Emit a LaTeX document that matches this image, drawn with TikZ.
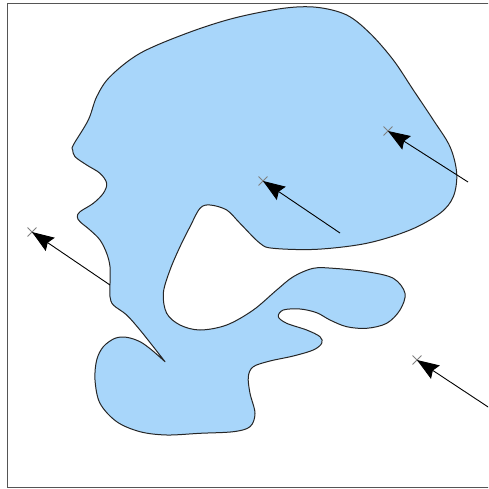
\documentclass[tikz,border=0pt]{standalone}
\usetikzlibrary{arrows.meta,shapes.misc}
\definecolor{blobfill}{RGB}{168,214,250}
\definecolor{framegray}{RGB}{85,85,85}
\tikzset{
  blob/.style={draw=black!85, line width=1pt, fill=blobfill, line join=round},
  crossmark/.style={cross out, draw=black!50, line width=0.9pt, minimum size=8pt, inner sep=0pt},
  ray/.style={draw=black, line width=0.9pt, -{Stealth[length=22pt,width=16pt,inset=3pt]}},
  frameline/.style={draw=framegray, line width=1.4pt}
}
\begin{document}
\begin{tikzpicture}[x=1pt,y=-1pt]
\useasboundingbox (0,0) rectangle (488,489);
\clip (0,0) rectangle (488,489);
\fill[white] (0,0) rectangle (488,489);
\draw[frameline] (496,3.5) -- (7.3,3.5) -- (7.3,487.5) -- (496,487.5);
\draw[blob] plot[smooth, tension=0.55] coordinates {
(165,361.7) (153.3,346.7) (140,330) (126.7,315) (113.3,305) (110,296.7) (110,283.3)
(110,266.7) (106.7,253.3) (100,240) (90,230) (80,221.7) (77.3,216.7) (80,211.7)
(93.3,203.3) (103.3,193.3) (106.7,183.3) (100,173.3) (86.7,165) (75,156.7) (72.7,150)
(73.3,145) (88.3,120) (96.7,96.7) (110,76.7) (140,53.3) (186.7,33.3) (233.3,18.3)
(283.3,8.3) (316.7,7.3) (346.7,15) (370,33.3) (393.3,60) (413.3,90) (433.3,120)
(450,146.7) (456.7,173.3) (453.3,196.7) (440,213.3) (410,230) (366.7,243.3)
(316.7,249.3) (273.3,248.3) (260,243.3) (240,223.3) (226.7,210) (210,205) (200,208.3)
(190,226.7) (180,246.7) (170,270) (163.3,293.3) (166.7,313.3) (180,325) (200,330)
(226.7,325) (253.3,310) (276.7,290) (293.3,276.7) (313.3,268.3) (333.3,268.3)
(366.7,271.7) (393.3,278.3) (405,293.3) (400,310) (386.7,323.3) (366.7,328.3)
(346.7,326.7) (330,320) (316.7,312.7) (300,309) (283.3,310) (278.3,316.7) (286.7,323.3)
(306.7,330) (320,336.7) (321.7,343.3) (313.3,350) (293.3,356) (270,361) (253.3,366.7)
(248.3,376.7) (250,393.3) (255,413.3) (250,426.7) (233.3,431.7) (200,433.3) (166.7,435)
(140,431.7) (116.7,421.7) (100,403.3) (95,380) (96.7,360) (103.3,346.7) (115,338.3)
(126.7,337.3) (140,341.7) (151.7,350) (165,361.7)} -- cycle;
\node[crossmark] (x1) at (32,232) {};
\node[crossmark] (x2) at (263,181) {};
\node[crossmark] (x3) at (388,131) {};
\node[crossmark] (x4) at (417,360) {};
\coordinate (s1) at (110,285);
\coordinate (s2) at (340,233);
\coordinate (s3) at (468,182);
\coordinate (s4) at (498,413.5);
\draw[ray] (s1) -- (x1.center);
\draw[ray] (s2) -- (x2.center);
\draw[ray] (s3) -- (x3.center);
\draw[ray] (s4) -- (x4.center);
\end{tikzpicture}
\end{document}
